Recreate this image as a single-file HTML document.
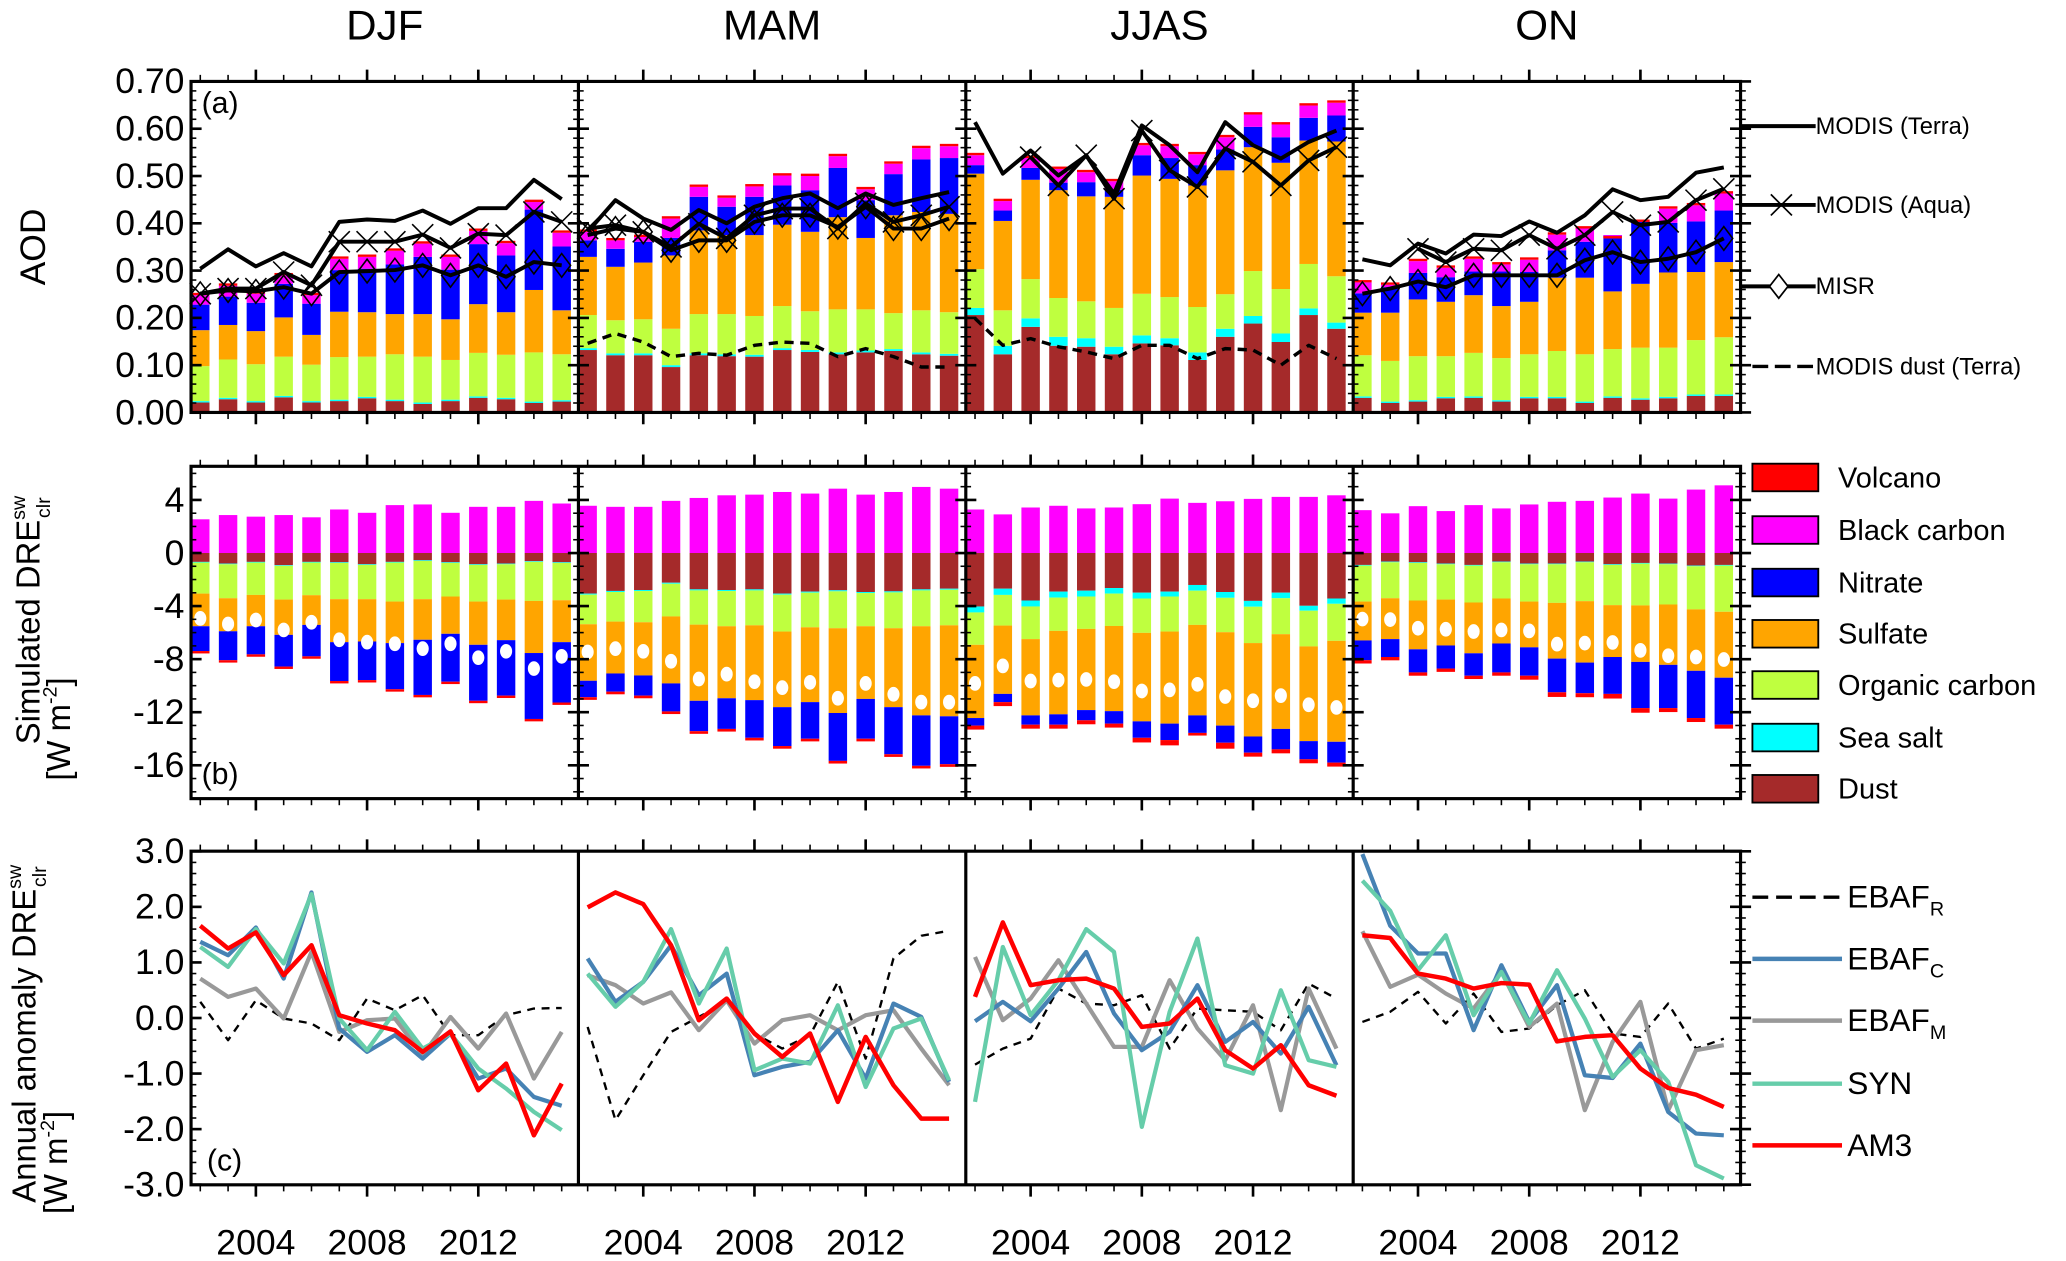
<!DOCTYPE html>
<html><head><meta charset="utf-8"><style>
html,body{margin:0;padding:0;background:#fff;}
svg{display:block;font-family:"Liberation Sans",Arial,sans-serif;}
</style></head><body>
<svg id="chart" width="2066" height="1261" viewBox="0 0 1568 960" preserveAspectRatio="none" xmlns="http://www.w3.org/2000/svg">
<rect x="0" y="0" width="1568" height="960" fill="#fff"/>
<g id="gBars"></g><g id="gLines"></g><g id="gAxes"></g><g id="gText"></g>
</svg>
<script>
// ---------- data ----------
const seasons = ["DJF","MAM","JJAS","ON"];
const years = [2002,2003,2004,2005,2006,2007,2008,2009,2010,2011,2012,2013,2014,2015];
const yearTicks = [2004,2008,2012];
const aodTicks = [0,0.1,0.2,0.3,0.4,0.5,0.6,0.7];
const dreTicks = [4,0,-4,-8,-12,-16];
const anomTicks = [3,2,1,0,-1,-2,-3];

// Panel (a): cumulative stacked AOD levels
const aDust = [
[.021,.028,.021,.032,.021,.024,.030,.024,.018,.024,.031,.028,.020,.023],
[.132,.121,.121,.096,.121,.119,.118,.132,.128,.123,.127,.130,.123,.120],
[.206,.123,.181,.141,.139,.123,.146,.142,.111,.160,.188,.149,.206,.177],
[.031,.020,.023,.030,.031,.023,.030,.030,.020,.031,.027,.030,.035,.035]];
const aSalt = [
[.024,.031,.024,.035,.024,.027,.033,.027,.021,.027,.034,.031,.023,.026],
[.136,.125,.125,.100,.125,.123,.122,.136,.132,.127,.131,.134,.127,.124],
[.221,.141,.199,.160,.157,.139,.163,.157,.127,.177,.204,.167,.220,.190],
[.034,.023,.026,.033,.034,.026,.033,.033,.023,.034,.030,.033,.038,.038]];
const aOC = [
[.098,.112,.102,.118,.101,.117,.118,.123,.118,.111,.126,.122,.127,.123],
[.206,.195,.197,.177,.208,.208,.204,.225,.214,.218,.218,.210,.216,.212],
[.303,.216,.282,.242,.235,.221,.251,.244,.223,.250,.299,.261,.314,.288],
[.121,.109,.119,.119,.126,.115,.123,.130,.123,.134,.137,.137,.153,.159]];
const aSulf = [
[.174,.185,.172,.201,.164,.213,.212,.208,.208,.197,.229,.212,.259,.216],
[.329,.308,.317,.332,.385,.375,.375,.397,.382,.413,.369,.417,.424,.420],
[.505,.405,.492,.470,.457,.456,.501,.494,.480,.512,.561,.528,.575,.573],
[.211,.211,.239,.234,.248,.225,.234,.285,.285,.256,.272,.296,.297,.318]];
const aNit = [
[.228,.245,.232,.272,.230,.301,.304,.313,.329,.302,.356,.332,.429,.351],
[.364,.346,.361,.369,.456,.435,.456,.480,.470,.517,.449,.504,.535,.538],
[.523,.427,.517,.486,.487,.471,.544,.538,.523,.556,.604,.582,.623,.628],
[.252,.265,.295,.286,.298,.298,.297,.343,.361,.375,.405,.401,.404,.427]];
const aBC = [
[.248,.268,.251,.290,.248,.325,.329,.342,.357,.329,.384,.358,.445,.380],
[.382,.364,.371,.410,.477,.454,.478,.501,.500,.542,.472,.526,.559,.563],
[.544,.447,.538,.515,.508,.489,.565,.563,.546,.582,.630,.609,.649,.655],
[.275,.270,.320,.306,.325,.313,.323,.376,.389,.368,.403,.431,.438,.463]];
const aVolc = [
[.253,.273,.256,.295,.253,.330,.334,.347,.362,.334,.389,.363,.450,.385],
[.387,.369,.376,.415,.482,.459,.483,.506,.505,.547,.477,.531,.564,.568],
[.549,.452,.543,.520,.513,.494,.570,.568,.551,.587,.635,.614,.654,.660],
[.280,.275,.325,.311,.330,.318,.328,.381,.394,.373,.408,.436,.443,.468]];
const modisTerra = [
[.304,.345,.309,.337,.309,.403,.408,.405,.427,.399,.432,.432,.492,.451],
[.382,.449,.410,.386,.428,.400,.435,.453,.463,.432,.463,.439,.453,.466],
[.614,.505,.554,.501,.543,.463,.607,.565,.508,.614,.565,.537,.572,.596],
[.324,.311,.357,.336,.376,.373,.404,.380,.417,.472,.449,.456,.507,.518]];
const modisAqua = [
[.251,.262,.262,.297,.269,.361,.361,.361,.376,.348,.378,.375,.424,.403],
[.389,.396,.382,.350,.399,.368,.417,.431,.431,.389,.442,.403,.417,.435],
[null,null,.540,.480,.544,.452,.596,.512,.477,.558,.530,.480,.533,.561],
[null,null,.346,.318,.346,.343,.375,.346,.375,.424,.396,.403,.449,.473]];
const misr = [
[.251,.258,.256,.265,.251,.297,.299,.301,.311,.290,.311,.287,.318,.311],
[.375,.389,.382,.343,.364,.364,.403,.417,.417,.392,.435,.389,.389,.410],
[null,null,null,null,null,null,null,null,null,null,null,null,null,null],
[.251,.262,.277,.265,.290,.290,.290,.290,.322,.339,.318,.325,.339,.368]];
const modisDust = [
[null,null,null,null,null,null,null,null,null,null,null,null,null,null],
[.146,.167,.149,.118,.125,.121,.142,.149,.146,.118,.135,.118,.096,.096],
[.199,.142,.156,.139,.128,.114,.142,.142,.114,.135,.132,.100,.142,.114],
[null,null,null,null,null,null,null,null,null,null,null,null,null,null]];

// Panel (b): cumulative stacked DRE levels (W m-2)
const bBC = [
[2.54,2.86,2.74,2.86,2.69,3.28,3.03,3.61,3.66,3.03,3.48,3.48,3.93,3.73],
[3.56,3.48,3.48,3.93,4.15,4.35,4.40,4.60,4.48,4.85,4.40,4.60,4.98,4.85],
[3.28,2.91,3.43,3.56,3.36,3.43,3.68,4.10,3.78,3.90,4.08,4.23,4.23,4.35],
[3.23,2.99,3.53,3.16,3.61,3.36,3.66,3.86,3.93,4.18,4.48,4.10,4.78,5.10]];
const bDust = [
[-.67,-.80,-.67,-.92,-.67,-.70,-.85,-.67,-.55,-.70,-.85,-.80,-.62,-.70],
[-3.06,-2.86,-2.79,-2.24,-2.74,-2.79,-2.74,-3.06,-2.91,-2.81,-2.94,-2.89,-2.74,-2.69],
[-4.03,-2.69,-3.58,-2.91,-2.84,-2.64,-2.99,-2.91,-2.41,-2.94,-3.61,-2.99,-3.98,-3.43],
[-.90,-.65,-.70,-.80,-.90,-.65,-.80,-.80,-.65,-.85,-.75,-.80,-.95,-.90]];
const bSalt = [
[-.72,-.85,-.72,-.97,-.72,-.75,-.90,-.72,-.60,-.75,-.90,-.85,-.67,-.75],
[-3.14,-2.94,-2.87,-2.32,-2.82,-2.87,-2.82,-3.14,-2.99,-2.89,-3.02,-2.97,-2.82,-2.77],
[-4.48,-3.16,-4.03,-3.36,-3.28,-3.06,-3.43,-3.28,-2.84,-3.38,-4.05,-3.41,-4.35,-3.83],
[-.95,-.70,-.75,-.85,-.95,-.70,-.85,-.85,-.70,-.90,-.80,-.85,-1.00,-.95]];
const bOC = [
[-3.06,-3.41,-3.16,-3.51,-3.18,-3.48,-3.48,-3.66,-3.48,-3.28,-3.66,-3.51,-3.61,-3.56],
[-5.37,-5.17,-5.22,-4.78,-5.40,-5.52,-5.45,-5.92,-5.60,-5.67,-5.52,-5.67,-5.52,-5.45],
[-6.92,-5.47,-6.49,-5.87,-5.72,-5.50,-6.02,-5.92,-5.42,-5.97,-6.79,-6.12,-7.04,-6.62],
[-3.66,-3.41,-3.58,-3.51,-3.73,-3.43,-3.66,-3.76,-3.63,-3.93,-3.95,-3.88,-4.25,-4.43]];
const bSulf = [
[-5.52,-5.90,-5.52,-6.17,-5.42,-6.72,-6.67,-6.79,-6.54,-6.09,-6.92,-6.57,-7.54,-6.72],
[-9.63,-9.08,-9.23,-9.83,-11.14,-10.95,-11.09,-11.62,-11.24,-12.06,-11.00,-11.62,-12.24,-12.31],
[-12.44,-10.62,-12.24,-12.16,-11.84,-11.92,-12.69,-12.86,-12.24,-13.01,-13.83,-13.26,-14.18,-14.23],
[-6.59,-6.49,-7.26,-6.97,-7.56,-6.82,-7.11,-7.96,-8.26,-7.84,-8.21,-8.43,-8.88,-9.40]];
const bNit = [
[-7.39,-8.08,-7.64,-8.56,-7.79,-9.65,-9.58,-10.27,-10.70,-9.70,-11.14,-10.75,-12.51,-11.27],
[-10.87,-10.45,-10.75,-11.94,-13.43,-13.26,-13.93,-14.55,-14.00,-15.67,-14.00,-15.17,-16.04,-15.92],
[-13.01,-11.24,-12.94,-12.94,-12.61,-12.86,-13.93,-14.10,-13.56,-14.30,-15.05,-14.80,-15.55,-15.80],
[-8.08,-7.84,-9.00,-8.71,-9.25,-9.00,-9.25,-10.50,-10.57,-10.62,-11.69,-11.69,-12.44,-12.94]];
const bVolc = [
[-7.57,-8.26,-7.82,-8.74,-7.97,-9.83,-9.76,-10.45,-10.88,-9.88,-11.32,-10.93,-12.69,-11.45],
[-11.07,-10.65,-10.95,-12.14,-13.63,-13.46,-14.13,-14.75,-14.20,-15.87,-14.20,-15.37,-16.24,-16.12],
[-13.31,-11.54,-13.24,-13.24,-12.91,-13.16,-14.28,-14.50,-13.76,-14.75,-15.35,-15.10,-15.85,-16.10],
[-8.33,-8.09,-9.25,-8.96,-9.50,-9.25,-9.55,-10.85,-10.87,-10.97,-12.04,-11.99,-12.74,-13.24]];
const bNet = [
[-4.93,-5.35,-5.05,-5.80,-5.22,-6.54,-6.72,-6.84,-7.21,-6.84,-7.89,-7.41,-8.71,-7.79],
[-7.46,-7.21,-7.41,-8.16,-9.50,-9.13,-9.70,-10.15,-9.75,-10.95,-9.83,-10.65,-11.24,-11.24],
[-9.83,-8.51,-9.65,-9.58,-9.53,-9.70,-10.40,-10.32,-9.90,-10.82,-11.14,-10.75,-11.44,-11.64],
[-4.98,-5.02,-5.67,-5.75,-5.92,-5.80,-5.87,-6.87,-6.79,-6.74,-7.34,-7.74,-7.84,-8.03]];

// Panel (c): annual anomalies (W m-2)
const ebafR = [
[.29,-.40,.32,-.01,-.10,-.40,.35,.14,.41,-.31,-.31,.05,.17,.18],
[-.16,-1.84,-1.03,-.25,.02,.29,-.28,-.55,-.31,.65,-.73,1.07,1.48,1.57],
[-.84,-.55,-.37,.53,.26,.23,.41,-.55,.17,.14,.11,-.22,.62,.35],
[-.07,.11,.47,-.10,.44,-.25,-.19,.23,.50,-.28,-.34,.26,-.55,-.37]];
const ebafC = [
[1.37,1.13,1.63,.71,2.26,-.19,-.61,-.31,-.73,-.28,-1.09,-.91,-1.42,-1.58],
[1.07,.29,.65,1.31,.41,.80,-1.03,-.88,-.79,-.22,-1.09,.26,.02,-1.15],
[-.06,.29,-.06,.53,1.19,.08,-.58,-.25,.59,-.43,-.07,-.64,.20,-.85],
[2.95,1.66,1.16,1.16,-.22,.95,-.07,.59,-1.03,-1.08,-.46,-1.69,-2.08,-2.11]];
const ebafM = [
[.71,.38,.53,-.01,1.19,-.25,-.04,-.01,-.67,.02,-.55,.08,-1.09,-.25],
[.77,.59,.26,.46,-.22,.32,-.46,-.04,.05,-.22,.05,.14,-.55,-1.21],
[1.10,-.04,.35,1.04,.26,-.52,-.52,.68,-.19,-.76,.23,-1.66,.53,-.55],
[1.56,.56,.78,.44,.17,.83,-.16,.26,-1.66,-.43,.29,-1.66,-.58,-.49]];
const syn = [
[1.28,.92,1.60,.98,2.23,-.01,-.58,.11,-.55,-.28,-.91,-1.27,-1.69,-2.02],
[.80,.20,.65,1.60,.26,1.25,-.94,-.73,-.82,.23,-1.24,-.19,-.01,-1.12],
[-1.51,1.28,.05,.68,1.60,1.19,-1.96,.11,1.43,-.85,-1.00,.50,-.76,-.88],
[2.47,1.93,.86,1.49,.05,.83,-.10,.86,-.01,-1.06,-.58,-1.15,-2.65,-2.89]];
const am3 = [
[1.66,1.25,1.54,.77,1.31,.05,-.10,-.22,-.61,-.24,-1.30,-.82,-2.11,-1.18],
[1.99,2.26,2.05,1.31,-.04,.35,-.28,-.70,-.28,-1.51,-.34,-1.21,-1.81,-1.81],
[.38,1.72,.59,.68,.71,.53,-.16,-.10,.35,-.58,-.91,-.49,-1.21,-1.40],
[1.49,1.44,.80,.71,.53,.63,.60,-.42,-.34,-.31,-.91,-1.26,-1.38,-1.60]];

// ---------- layout ----------
const NS="http://www.w3.org/2000/svg";
const PL=[145,439,733,1027], PW=294;
const A={top:62,bot:314}, B={top:355,bot:608}, C={top:648,bot:902};
const COL={volc:"#ff0000",bc:"#ff00ff",nit:"#0000ff",sulf:"#ffa500",oc:"#bfff3f",salt:"#00ffff",dust:"#a52a2a"};
function xs(p,i){return PL[p]+7+i*21.1;}
function xYear(p,yr){return xs(p,years.indexOf(yr));}
function ya(v){return A.bot-(v/0.7)*(A.bot-A.top);}
function yb(v){return 421-v*10.1;}
function yc(v){return 775-v*42.3;}
function mk(tag,attrs,parent){const e=document.createElementNS(NS,tag);for(const k in attrs)e.setAttribute(k,attrs[k]);parent.appendChild(e);return e;}
const gBars=document.getElementById('gBars'),gLines=document.getElementById('gLines'),gAxes=document.getElementById('gAxes'),gText=document.getElementById('gText');
const BW=14;

function seg(p,i,v0,v1,yf,color,name){
  const y0=yf(v0),y1=yf(v1);
  const r=mk('rect',{x:xs(p,i)-BW/2,y:Math.min(y0,y1),width:BW,height:Math.max(0,Math.abs(y1-y0)),fill:color},gBars);
  
  
}
for(let p=0;p<4;p++){
  for(let i=0;i<years.length;i++){
    seg(p,i,0,aDust[p][i],ya,COL.dust,'aod-bar-dust');
    seg(p,i,aDust[p][i],aSalt[p][i],ya,COL.salt,'aod-bar-sea-salt');
    seg(p,i,aSalt[p][i],aOC[p][i],ya,COL.oc,'aod-bar-organic-carbon');
    seg(p,i,aOC[p][i],aSulf[p][i],ya,COL.sulf,'aod-bar-sulfate');
    seg(p,i,aSulf[p][i],aNit[p][i],ya,COL.nit,'aod-bar-nitrate');
    seg(p,i,aNit[p][i],aBC[p][i],ya,COL.bc,'aod-bar-black-carbon');
    seg(p,i,aBC[p][i],aVolc[p][i],ya,COL.volc,'aod-bar-volcano');
    seg(p,i,0,bBC[p][i],yb,COL.bc,'dre-bar-black-carbon');
    seg(p,i,0,bDust[p][i],yb,COL.dust,'dre-bar-dust');
    seg(p,i,bDust[p][i],bSalt[p][i],yb,COL.salt,'dre-bar-sea-salt');
    seg(p,i,bSalt[p][i],bOC[p][i],yb,COL.oc,'dre-bar-organic-carbon');
    seg(p,i,bOC[p][i],bSulf[p][i],yb,COL.sulf,'dre-bar-sulfate');
    seg(p,i,bSulf[p][i],bNit[p][i],yb,COL.nit,'dre-bar-nitrate');
    seg(p,i,bNit[p][i],bVolc[p][i],yb,COL.volc,'dre-bar-volcano');
    const d=mk('ellipse',{cx:xs(p,i),cy:yb(bNet[p][i]),rx:4.6,ry:5.6,fill:'#fff'},gBars);
    
    
  }
}
function pathOf(p,arr,yf){
  let d='',pen=false;
  arr.forEach((v,i)=>{ if(v===null){pen=false;return;} d+=(pen?'L':'M')+xs(p,i).toFixed(1)+','+yf(v).toFixed(1); pen=true;});
  return d;
}
function line(p,arr,yf,stroke,w,dash,name){
  const d=pathOf(p,arr,yf); if(!d) return;
  const l=mk('path',{d:d,fill:'none',stroke:stroke,'stroke-width':w,'stroke-linejoin':'round'},gLines);
  if(dash) l.setAttribute('stroke-dasharray',dash);
  
  
}
function xMark(cx,cy,s,parent){
  const m=mk('path',{d:`M${cx-s},${cy-s}L${cx+s},${cy+s}M${cx-s},${cy+s}L${cx+s},${cy-s}`,stroke:'#000','stroke-width':1.2,fill:'none'},parent);
  
  
}
function dMark(cx,cy,s,parent){
  const m=mk('path',{d:`M${cx},${cy-s}L${cx+s*0.75},${cy}L${cx},${cy+s}L${cx-s*0.75},${cy}Z`,stroke:'#000','stroke-width':1.2,fill:'none'},parent);
  
  
}
for(let p=0;p<4;p++){
  line(p,modisDust[p],ya,'#000',2.6,'7,5','modis-dust-line');
  line(p,misr[p],ya,'#000',3,null,'misr-line');
  line(p,modisAqua[p],ya,'#000',3,null,'modis-aqua-line');
  line(p,modisTerra[p],ya,'#000',3,null,'modis-terra-line');
  misr[p].forEach((v,i)=>{if(v!==null)dMark(xs(p,i),ya(v),9,gLines);});
  modisAqua[p].forEach((v,i)=>{if(v!==null)xMark(xs(p,i),ya(v),8,gLines);});
  line(p,ebafR[p],yc,'#000',1.8,'6,5','ebaf-r-line');
  line(p,ebafM[p],yc,'#999999',3.2,null,'ebaf-m-line');
  line(p,ebafC[p],yc,'#4682b4',3.2,null,'ebaf-c-line');
  line(p,syn[p],yc,'#66cdaa',3.2,null,'syn-line');
  line(p,am3[p],yc,'#ff0000',3.4,null,'am3-line');
}
// ---------- axes ----------
function L(x1,y1,x2,y2,w,parent,name){const e=mk('line',{x1:x1,y1:y1,x2:x2,y2:y2,stroke:'#000','stroke-width':w},parent||gAxes);if(name){}return e;}
const rows=[{r:A,name:'aod'},{r:B,name:'dre'},{r:C,name:'anomaly'}];
rows.forEach(o=>{
  const r=o.r;
  const fr=mk('rect',{x:PL[0],y:r.top,width:PW*4,height:r.bot-r.top,fill:'none',stroke:'#000','stroke-width':2.4},gAxes);
  
  
  for(let p=1;p<4;p++) L(PL[p],r.top,PL[p],r.bot,2.4,gAxes,o.name+'-panel-divider');
  for(let p=0;p<4;p++){
    years.forEach((yr,i)=>{
      const maj=yearTicks.includes(yr); const len=maj?9:5; const x=xs(p,i);
      L(x,r.bot,x,r.bot+len,maj?2:1.2);
      L(x,r.top,x,r.top-len,maj?2:1.2);
    });
  }
});
function yTicks(r,yf,vmin,vmax,majStep,minStep,borders){
  const n=Math.round((vmax-vmin)/minStep);
  for(let k=0;k<=n;k++){
    const v=vmin+k*minStep; const y=yf(v);
    const maj=Math.abs(v/majStep-Math.round(v/majStep))<1e-6; const len=maj?8:4;
    borders.forEach(b=>{
      if(b===0) L(PL[0],y,PL[0]+len,y,maj?2:1.2);
      else { const x=b===4?PL[0]+4*PW:PL[b]; L(x-len,y,x+len,y,maj?2:1.2); }
    });
  }
}
yTicks(A,ya,0,0.7,0.1,0.02,[0,1,2,3,4]);
yTicks(B,yb,-18,6,4,1,[0,1,2,3,4]);
yTicks(C,yc,-3,3,1,0.2,[0,4]);
function T(txt,x,y,size,anchor,name){const t=mk('text',{x:x,y:y,'font-size':size,'text-anchor':anchor||'start',fill:'#000'},gText);t.textContent=txt;return t;}
aodTicks.forEach(v=>T(v.toFixed(2),140,ya(v)+9,27,'end','aod-tick-label'));
dreTicks.forEach(v=>T(String(v),140,yb(v)+9,27,'end','dre-tick-label'));
anomTicks.forEach(v=>T(v.toFixed(1),140,yc(v)+9,27,'end','anomaly-tick-label'));
for(let p=0;p<4;p++){
  yearTicks.forEach(yr=>T(String(yr),xYear(p,yr),955,27,'middle','year-tick-label'));
  T(seasons[p],PL[p]+PW/2,30,32,'middle','season-title-'+seasons[p].toLowerCase());
}
T('(a)',153,86,23,'start','panel-a-label');
T('(b)',153,597,23,'start','panel-b-label');
T('(c)',157,891,23,'start','panel-c-label');
</script>
<script>
(function(){
const g=document.getElementById('gText');
g.insertAdjacentHTML('beforeend',`
<text transform="translate(34,188) rotate(-90)" text-anchor="middle" font-size="27">AOD</text>
<text transform="translate(30,472) rotate(-90)" text-anchor="middle" font-size="25">Simulated DRE<tspan font-size="15" dy="-11">sw</tspan><tspan font-size="15" dx="-17" dy="19">clr</tspan></text>
<text transform="translate(53,555) rotate(-90)" text-anchor="middle" font-size="25">[W m<tspan font-size="15" dy="-10">-2</tspan><tspan dy="10">]</tspan></text>
<text transform="translate(27,787) rotate(-90)" text-anchor="middle" font-size="25">Annual anomaly DRE<tspan font-size="15" dy="-11">sw</tspan><tspan font-size="15" dx="-17" dy="19">clr</tspan></text>
<text transform="translate(51,885) rotate(-90)" text-anchor="middle" font-size="25">[W m<tspan font-size="15" dy="-10">-2</tspan><tspan dy="10">]</tspan></text>
<g font-size="18">
 <line x1="1322" y1="96" x2="1378" y2="96" stroke="#000" stroke-width="3"/><text x="1378" y="102">MODIS (Terra)</text>
 <line x1="1322" y1="156" x2="1378" y2="156" stroke="#000" stroke-width="3"/><path d="M1344,148L1360,164M1344,164L1360,148" stroke="#000" stroke-width="1.3"/><text x="1378" y="162">MODIS (Aqua)</text>
 <line x1="1322" y1="218" x2="1378" y2="218" stroke="#000" stroke-width="3"/><path d="M1350,209L1357,218L1350,227L1343,218Z" fill="#fff" stroke="#000" stroke-width="1.3"/><text x="1378" y="224">MISR</text>
 <line x1="1330" y1="279" x2="1378" y2="279" stroke="#000" stroke-width="2.6" stroke-dasharray="12,5"/><text x="1378" y="285">MODIS dust (Terra)</text>
</g>
<g font-size="22" stroke-width="1.4">
 <rect x="1330" y="353" width="50" height="21" fill="#ff0000" stroke="#000"/><text x="1395" y="371" stroke="none">Volcano</text>
 <rect x="1330" y="393" width="50" height="21" fill="#ff00ff" stroke="#000"/><text x="1395" y="411" stroke="none">Black carbon</text>
 <rect x="1330" y="433" width="50" height="21" fill="#0000ff" stroke="#000"/><text x="1395" y="451" stroke="none">Nitrate</text>
 <rect x="1330" y="472" width="50" height="21" fill="#ffa500" stroke="#000"/><text x="1395" y="490" stroke="none">Sulfate</text>
 <rect x="1330" y="511" width="50" height="21" fill="#bfff3f" stroke="#000"/><text x="1395" y="529" stroke="none">Organic carbon</text>
 <rect x="1330" y="551" width="50" height="21" fill="#00ffff" stroke="#000"/><text x="1395" y="569" stroke="none">Sea salt</text>
 <rect x="1330" y="590" width="50" height="21" fill="#a52a2a" stroke="#000"/><text x="1395" y="608" stroke="none">Dust</text>
</g>
<g font-size="24">
 <line x1="1330" y1="683" x2="1398" y2="683" stroke="#000" stroke-width="2.6" stroke-dasharray="12,6"/><text x="1402" y="691">EBAF<tspan font-size="15" dy="6">R</tspan></text>
 <line x1="1330" y1="730" x2="1398" y2="730" stroke="#4682b4" stroke-width="3.4"/><text x="1402" y="738">EBAF<tspan font-size="15" dy="6">C</tspan></text>
 <line x1="1330" y1="777" x2="1398" y2="777" stroke="#999" stroke-width="3.4"/><text x="1402" y="785">EBAF<tspan font-size="15" dy="6">M</tspan></text>
 <line x1="1330" y1="825" x2="1398" y2="825" stroke="#66cdaa" stroke-width="3.4"/><text x="1402" y="833">SYN</text>
 <line x1="1330" y1="872" x2="1398" y2="872" stroke="#ff0000" stroke-width="3.4"/><text x="1402" y="880">AM3</text>
</g>`);
})();
</script>
</body></html>
